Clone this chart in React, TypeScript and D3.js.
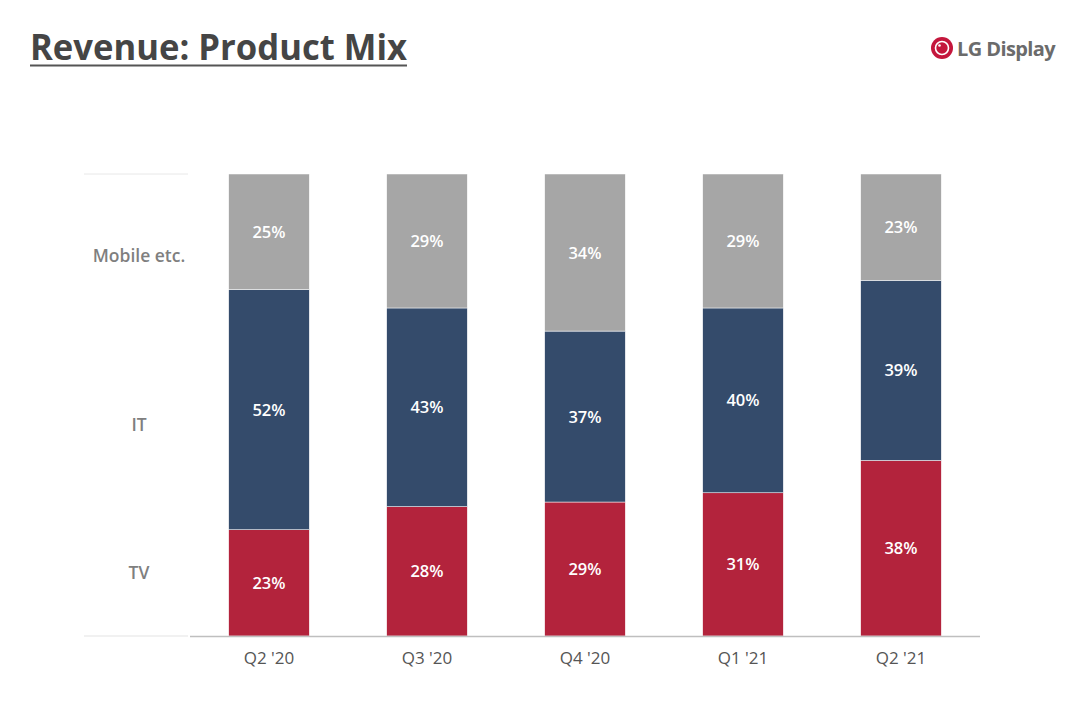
import * as d3 from "d3";

const quarters = ["Q2 '20", "Q3 '20", "Q4 '20", "Q1 '21", "Q2 '21"];
const seriesNames = ["TV", "IT", "Mobile etc."];
const tvShare = [23, 28, 29, 31, 38];
const itShare = [52, 43, 37, 40, 39];
const mobileShare = [25, 29, 34, 29, 23];
const seriesColors = ["#B3233C", "#344B6B", "#A6A6A6"];

const W = 1080;
const H = 710;
const PLOT = { left: 190, right: 980, top: 174, bottom: 636 };
const FONT = "'Open Sans', 'Noto Sans', sans-serif";

export default function App() {
  const rows = quarters.map((q, i) => ({
    q,
    TV: tvShare[i],
    IT: itShare[i],
    "Mobile etc.": mobileShare[i],
  }));
  const stacked = d3.stack<any>().keys(seriesNames)(rows);

  const x = d3
    .scaleBand()
    .domain(quarters)
    .range([PLOT.left, PLOT.right])
    .paddingInner(0.49)
    .paddingOuter(0.245);
  const y = d3.scaleLinear().domain([0, 100]).range([PLOT.bottom, PLOT.top]);
  const color = d3.scaleOrdinal<string>().domain(seriesNames).range(seriesColors);

  // category label positions (centre of segment in the first bar)
  const labelY = [572, 424, 255];

  return (
    <svg
      width={W}
      height={H}
      style={{ position: "absolute", left: 0, top: 0, background: "#fff" }}
      fontFamily={FONT}
    >
      {/* Title */}
      <text
        x={30}
        y={60}
        fontSize={36}
        fontWeight={700}
        fill="#454545"
        textLength={377}
        lengthAdjust="spacingAndGlyphs"
      >
        Revenue: Product Mix
      </text>
      <line x1={30} x2={407} y1={65.5} y2={65.5} stroke="#555" strokeWidth={2} />

      {/* Logo */}
      <g transform="translate(942,48)">
        <circle r={11} fill="#C4163C" />
        <circle r={6.5} fill="none" stroke="#fff" strokeWidth={1.6} />
        <circle cx={-2.5} cy={-2.5} r={1.3} fill="#fff" />
        <text x={15} y={7.5} fontSize={20} fontWeight={700} fill="#6B6B6B" letterSpacing={-0.6}>
          LG Display
        </text>
      </g>

      {/* faint guide lines */}
      <line x1={84} x2={188} y1={PLOT.top} y2={PLOT.top} stroke="#E8E8E8" strokeWidth={1} />
      <line x1={84} x2={188} y1={PLOT.bottom} y2={PLOT.bottom} stroke="#E3E3E3" strokeWidth={1} />

      {/* bars */}
      {stacked.map((layer) => (
        <g key={layer.key}>
          {layer.map((d, i) => {
            const x0 = x(quarters[i])!;
            const y0 = y(d[1]);
            const y1 = y(d[0]);
            return (
              <g key={quarters[i]}>
                <rect
                  x={x0}
                  y={y0}
                  width={x.bandwidth()}
                  height={y1 - y0}
                  fill={color(layer.key)}
                  stroke="#fff"
                  strokeWidth={0.5}
                />
                <text
                  x={x0 + x.bandwidth() / 2}
                  y={(y0 + y1) / 2 + 6}
                  textAnchor="middle"
                  fontSize={16.5}
                  fontWeight={600}
                  fill="#fff"
                >
                  {d[1] - d[0]}%
                </text>
              </g>
            );
          })}
        </g>
      ))}

      {/* axis */}
      <line x1={PLOT.left} x2={PLOT.right} y1={PLOT.bottom + 0.5} y2={PLOT.bottom + 0.5} stroke="#BFBFBF" strokeWidth={1.5} />
      {quarters.map((q) => (
        <text
          key={q}
          x={x(q)! + x.bandwidth() / 2}
          y={664}
          textAnchor="middle"
          fontSize={17}
          fill="#555"
        >
          {q}
        </text>
      ))}

      {/* category labels */}
      {seriesNames.map((s, i) => (
        <text
          key={s}
          x={139}
          y={labelY[i] + 6.5}
          textAnchor="middle"
          fontSize={17.5}
          fontWeight={600}
          fill="#7F7F7F"
        >
          {s}
        </text>
      ))}
    </svg>
  );
}
